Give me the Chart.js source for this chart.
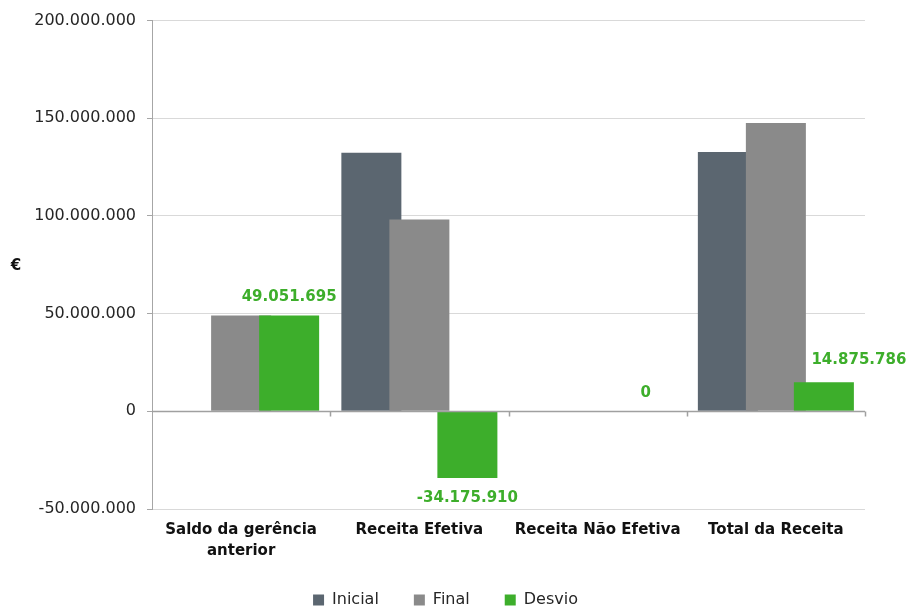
<!DOCTYPE html>
<html>
<head>
<meta charset="utf-8">
<script src="https://cdn.jsdelivr.net/npm/chart.js@4.4.1/dist/chart.umd.min.js"></script>
<style>
  html, body { margin: 0; padding: 0; background: #fff; }
  #wrap { width: 907px; height: 609px; position: relative; }
</style>
</head>
<body>
<div id="wrap"><canvas id="c"></canvas></div>
<script>
// Receita: valores iniciais, finais e desvio (€)
const categories = [["Saldo da gerência", "anterior"], "Receita Efetiva", "Receita Não Efetiva", "Total da Receita"];
const inicial = [0, 132400000, 300000, 132700000];
const final = [49051695, 98224090, 300000, 147575785];
const desvio = [49051695, -34175910, 0, 14875786];
const seriesNames = ["Inicial", "Final", "Desvio"];
const yMin = -50000000;
const yMax = 200000000;
const yStep = 50000000;

const FONT = "'DejaVu Sans', sans-serif";
const GREEN = "#3dae2b";

function fmt(v) {
  const s = Math.round(Math.abs(v)).toString().replace(/\B(?=(\d{3})+(?!\d))/g, ".");
  return (v < 0 ? "-" : "") + s;
}

// Barras sobrepostas: cada série é desenhada por cima da anterior
const forwardBars = {
  id: "forwardBars",
  beforeDatasetsDraw(chart) {
    chart.getSortedVisibleDatasetMetas().forEach((meta) => meta.controller.draw());
    return false;
  }
};

// Linha do zero com marcas nas fronteiras das categorias
function drawZeroAxis(chart) {
  const { ctx, chartArea, scales } = chart;
  const y0 = Math.round(scales.y.getPixelForValue(0)) + 0.5;
  const n = categories.length;
  const w = (chartArea.right - chartArea.left) / n;
  ctx.save();
  ctx.strokeStyle = "#a0a0a0";
  ctx.lineWidth = 1.5;
  ctx.beginPath();
  ctx.moveTo(chartArea.left, y0);
  ctx.lineTo(chartArea.right, y0);
  for (let i = 1; i <= n; i++) {
    const x = Math.round(chartArea.left + i * w) + 0.5;
    ctx.moveTo(x, y0);
    ctx.lineTo(x, y0 + 5);
  }
  ctx.stroke();
  ctx.restore();
}

// Rótulos de valor da série Desvio
function drawDesvioLabels(chart, opts) {
  const { ctx } = chart;
  const meta = chart.getDatasetMeta(2);
  ctx.save();
  ctx.fillStyle = GREEN;
  ctx.font = "bold 15px " + FONT;
  ctx.textAlign = "center";
  ctx.textBaseline = "middle";
  meta.data.forEach((bar, i) => {
    const v = desvio[i];
    const x = bar.x + opts.dx[i];
    const y = (v < 0 ? bar.y + opts.gap : bar.y - opts.gap) + opts.dy[i];
    ctx.fillText(fmt(v), x, y);
  });
  ctx.restore();
}

const overlay = {
  id: "overlay",
  afterDraw(chart, args, opts) {
    drawZeroAxis(chart);
    drawDesvioLabels(chart, opts);
    // unidade do eixo vertical
    const { ctx, chartArea } = chart;
    ctx.save();
    ctx.fillStyle = "#111";
    ctx.font = "bold 15px " + FONT;
    ctx.textAlign = "center";
    ctx.textBaseline = "middle";
    ctx.fillText("€", 16, (chartArea.top + chartArea.bottom) / 2 + 1);
    ctx.restore();
  }
};

new Chart(document.getElementById("c"), {
  type: "bar",
  data: {
    labels: categories,
    datasets: [
      { label: seriesNames[0], data: inicial, backgroundColor: "#5b6670" },
      { label: seriesNames[1], data: final, backgroundColor: "#8a8a8a" },
      { label: seriesNames[2], data: desvio, backgroundColor: GREEN }
    ]
  },
  options: {
    responsive: true,
    maintainAspectRatio: false,
    animation: false,
    datasets: { bar: { categoryPercentage: 0.808, barPercentage: 1.25, borderWidth: 0 } },
    layout: { padding: { left: 0, right: 16, top: 16.5, bottom: -9 } },
    scales: {
      x: {
        grid: { display: false, drawTicks: false },
        border: { display: false },
        ticks: {
          color: "#111",
          font: { family: FONT, size: 15, weight: "bold", lineHeight: 1.4 },
          padding: 11,
          maxRotation: 0,
          autoSkip: false
        },
        afterFit(s) { s.height = 48; }
      },
      y: {
        min: yMin,
        max: yMax,
        grid: { color: "#d9d9d9", tickColor: "#a6a6a6", tickLength: 5, lineWidth: 1 },
        border: { display: true, color: "#a6a6a6", width: 1 },
        ticks: {
          stepSize: yStep,
          color: "#262626",
          font: { family: FONT, size: 16 },
          padding: 11,
          callback: (v) => fmt(v)
        },
        afterFit(s) { s.width = 152; }
      },
      // margem à direita da área do gráfico
      yRight: {
        position: "right",
        min: yMin,
        max: yMax,
        grid: { display: false, drawTicks: false },
        border: { display: false },
        ticks: { display: false },
        afterFit(s) { s.width = 26; }
      }
    },
    plugins: {
      legend: {
        position: "bottom",
        labels: {
          boxWidth: 11,
          boxHeight: 11,
          padding: 35,
          color: "#262626",
          font: { family: FONT, size: 16 }
        }
      },
      tooltip: { enabled: false },
      overlay: { gap: 18, dx: [0, 0, 0, 35], dy: [0, 2, 0, -4] }
    }
  },
  plugins: [forwardBars, overlay]
});
</script>
</body>
</html>
